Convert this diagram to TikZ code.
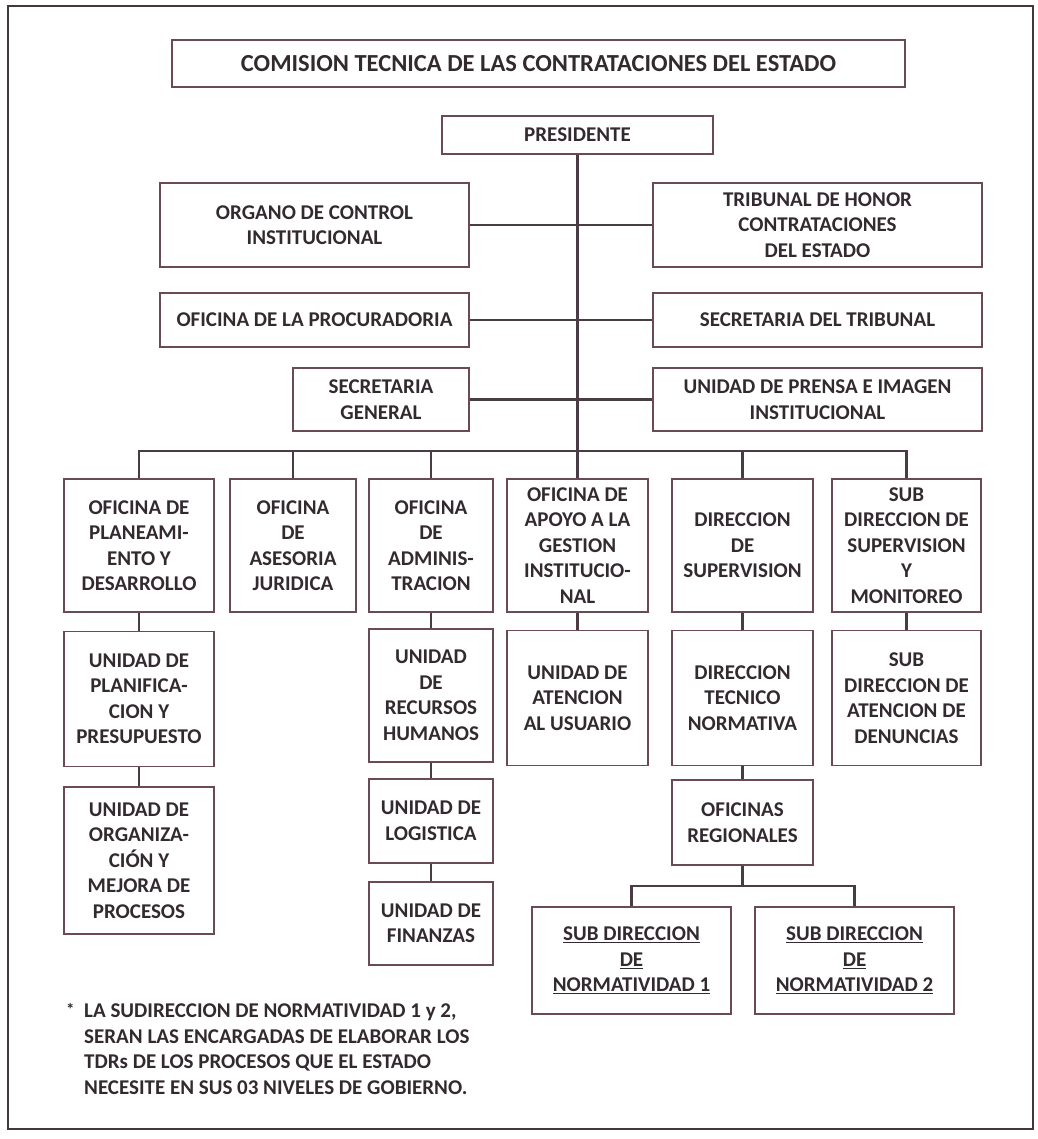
\documentclass[tikz,border=0pt]{standalone}
\usepackage{fontspec}
\setmainfont{Carlito}
\begin{document}
\begin{tikzpicture}[x=1pt,y=-1pt,
  box/.style={draw=boxc, line width=1.3pt, inner sep=0pt, align=center, text=txtc,
     font=\bfseries\fontsize{21}{25.5}\selectfont},
  conn/.style={draw=linec, line width=2.2pt},
]
\definecolor{boxc}{HTML}{6A4A55}
\definecolor{txtc}{HTML}{332A30}
\definecolor{linec}{HTML}{4A3C44}
\useasboundingbox (0,0) rectangle (1037,1139);
\draw[line width=2.5pt, draw=linec!90!black] (8,6) rectangle (1033,1129);

% top part
\node[box, minimum width=733pt, minimum height=47pt, font=\bfseries\fontsize{24.5}{29}\selectfont] (title) at (538.5,63.5) {COMISION TECNICA DE LAS CONTRATACIONES DEL ESTADO};
\node[box, minimum width=271pt, minimum height=38pt] (pres) at (577.5,135) {PRESIDENTE};
\node[box, minimum width=309pt, minimum height=84pt] (organo) at (314.5,225) {ORGANO DE CONTROL\\INSTITUCIONAL};
\node[box, minimum width=329pt, minimum height=84pt] (tribunal) at (817.5,225) {TRIBUNAL DE HONOR\\CONTRATACIONES\\DEL ESTADO};
\node[box, minimum width=309pt, minimum height=54pt] (procur) at (314.5,320) {OFICINA DE LA PROCURADORIA};
\node[box, minimum width=329pt, minimum height=54pt] (sectrib) at (817.5,320) {SECRETARIA DEL TRIBUNAL};
\node[box, minimum width=176pt, minimum height=63pt] (secgen) at (381,399.5) {SECRETARIA\\GENERAL};
\node[box, minimum width=329pt, minimum height=63pt] (prensa) at (817.5,399.5) {UNIDAD DE PRENSA E IMAGEN\\INSTITUCIONAL};

% row 1
\node[box, minimum width=150pt, minimum height=133pt] (b1) at (139,545.5) {OFICINA DE\\PLANEAMI-\\ENTO Y\\DESARROLLO};
\node[box, minimum width=126pt, minimum height=133pt] (b2) at (293,545.5) {OFICINA\\DE\\ASESORIA\\JURIDICA};
\node[box, minimum width=124pt, minimum height=133pt] (b3) at (431,545.5) {OFICINA\\DE\\ADMINIS-\\TRACION};
\node[box, minimum width=141pt, minimum height=133pt] (b4) at (577.5,545.5) {OFICINA DE\\APOYO A LA\\GESTION\\INSTITUCIO-\\NAL};
\node[box, minimum width=141pt, minimum height=133pt] (b5) at (742.5,545.5) {DIRECCION\\DE\\SUPERVISION};
\node[box, minimum width=149pt, minimum height=133pt] (b6) at (906.5,545.5) {SUB\\DIRECCION DE\\SUPERVISION\\Y\\MONITOREO};

% row 2
\node[box, minimum width=150pt, minimum height=135pt] (uplan) at (139,699) {UNIDAD DE\\PLANIFICA-\\CION Y\\PRESUPUESTO};
\node[box, minimum width=124pt, minimum height=133pt] (urrhh) at (431,695.5) {UNIDAD\\DE\\RECURSOS\\HUMANOS};
\node[box, minimum width=141pt, minimum height=135pt] (uaten) at (577.5,698) {UNIDAD DE\\ATENCION\\AL USUARIO};
\node[box, minimum width=141pt, minimum height=135pt] (dtn) at (742.5,698) {DIRECCION\\TECNICO\\NORMATIVA};
\node[box, minimum width=149pt, minimum height=135pt] (sdad) at (906.5,698) {SUB\\DIRECCION DE\\ATENCION DE\\DENUNCIAS};

% row 3
\node[box, minimum width=150pt, minimum height=147pt] (uorg) at (139,860.5) {UNIDAD DE\\ORGANIZA-\\CIÓN Y\\MEJORA DE\\PROCESOS};
\node[box, minimum width=124pt, minimum height=84pt] (ulog) at (431,821) {UNIDAD DE\\LOGISTICA};
\node[box, minimum width=124pt, minimum height=83pt] (ufin) at (431,923.5) {UNIDAD DE\\FINANZAS};
\node[box, minimum width=141pt, minimum height=85pt] (ofreg) at (742.5,822.5) {OFICINAS\\REGIONALES};
\node[box, minimum width=199pt, minimum height=107pt] (sd1) at (631.5,960.5) {\underline{SUB DIRECCION}\\\underline{DE}\\\underline{NORMATIVIDAD 1}};
\node[box, minimum width=199pt, minimum height=107pt] (sd2) at (854.5,960.5) {\underline{SUB DIRECCION}\\\underline{DE}\\\underline{NORMATIVIDAD 2}};

% note
\node[anchor=north west, inner sep=0pt, text=txtc, font=\bfseries\fontsize{17}{25.5}\selectfont] (star) at (66,1003) {*};
\node[anchor=north west, inner sep=0pt, align=left, text=txtc, font=\bfseries\fontsize{21}{25.5}\selectfont] (note) at (84,1004) {LA SUDIRECCION DE NORMATIVIDAD 1 y 2,\\SERAN LAS ENCARGADAS DE ELABORAR LOS\\TDRs DE LOS PROCESOS QUE EL ESTADO\\NECESITE EN SUS 03 NIVELES DE GOBIERNO.};

% connectors
\coordinate (bus) at (0,451);
\coordinate (br) at (0,886);
\draw[conn] (pres.south) -- (b4.north);
\draw[conn] (organo.east) -- (tribunal.west);
\draw[conn] (procur.east) -- (sectrib.west);
\draw[conn] (secgen.east) -- (prensa.west);
\draw[conn] (b1.north) -- (b1.north |- bus) -- (b6.north |- bus) -- (b6.north);
\draw[conn] (b2.north) -- (b2.north |- bus);
\draw[conn] (b3.north) -- (b3.north |- bus);
\draw[conn] (b5.north) -- (b5.north |- bus);
\draw[conn] (b1.south) -- (uplan.north);
\draw[conn] (uplan.south) -- (uorg.north);
\draw[conn] (b3.south) -- (urrhh.north);
\draw[conn] (urrhh.south) -- (ulog.north);
\draw[conn] (ulog.south) -- (ufin.north);
\draw[conn] (b4.south) -- (uaten.north);
\draw[conn] (b5.south) -- (dtn.north);
\draw[conn] (dtn.south) -- (ofreg.north);
\draw[conn] (b6.south) -- (sdad.north);
\draw[conn] (ofreg.south) -- (ofreg.south |- br);
\draw[conn] (sd1.north) -- (sd1.north |- br) -- (sd2.north |- br) -- (sd2.north);
\end{tikzpicture}
\end{document}
